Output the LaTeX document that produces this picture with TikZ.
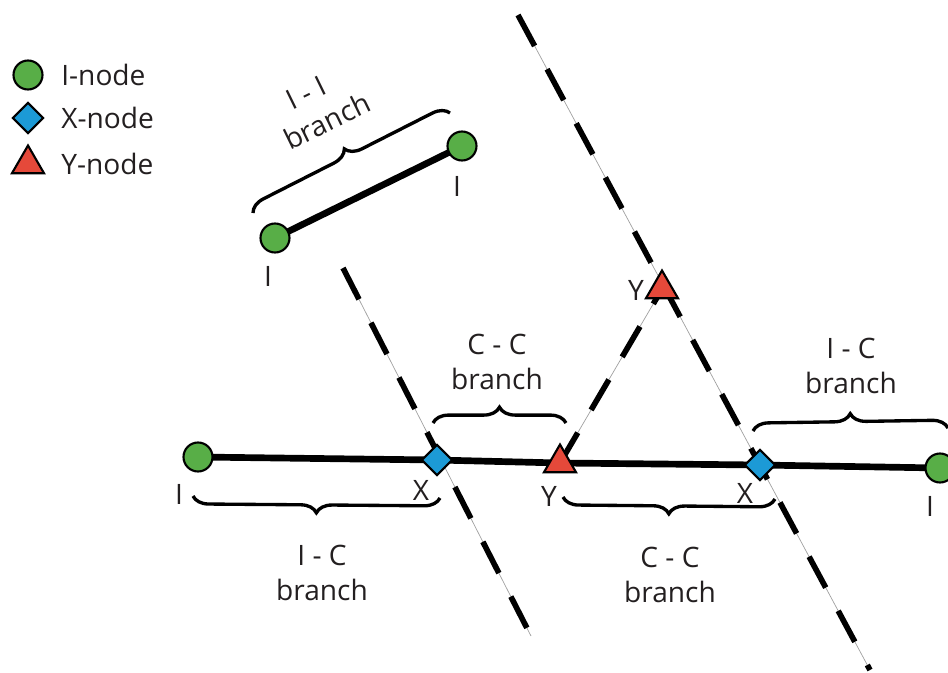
\documentclass[tikz,border=0pt]{standalone}
\usepackage{fontspec}
\setmainfont{Open Sans}
\usetikzlibrary{shapes.geometric,decorations.pathreplacing,positioning,backgrounds}
\definecolor{cInode} {HTML}{58AE47}
\definecolor{cXnode} {HTML}{1C9AD6}
\definecolor{cYnode} {HTML}{E5493A}
\definecolor{cThin}  {HTML}{A0A0A0}
\definecolor{cText}  {HTML}{231F20}

\begin{document}
\begin{tikzpicture}[
  x=0.02cm, y=-0.02cm,
  font=\fontsize{16}{20}\selectfont, text=cText,
  inode/.style ={circle, draw=black, line width=1.2pt, fill=cInode,
                 minimum size=0.58cm, inner sep=0pt},
  xnode/.style ={diamond, draw=black, line width=1.2pt, fill=cXnode,
                 minimum size=0.62cm, inner sep=0pt},
  ynode/.style ={regular polygon, regular polygon sides=3, draw=black,
                 line width=1.2pt, fill=cYnode, minimum size=0.74cm, inner sep=0pt},
  branch/.style={line width=3.8pt},
  thinline/.style={draw=cThin, line width=0.4pt},
  fracture/.style={line width=3.2pt, dash pattern=on 20pt off 15pt},
  brace/.style ={decorate, decoration={brace, amplitude=9pt}, line width=1.9pt},
  lbl/.style   ={align=center, inner sep=0pt},
  letter/.style={inner sep=0pt},
  key/.style   ={inner sep=0pt, anchor=west},
]
\useasboundingbox (0,0) rectangle (948,673);

% ---------------------------------------------------------------- legend
\node[inode] (li) at (28,75)  {};
\node[xnode] (lx) at (28,118) {};
\node[ynode] (ly) at (28,164) {};
\node[key] at (61,75)  {I-node};
\node[key] at (61,118) {X-node};
\node[key] at (61,164) {Y-node};

% ---------------------------------------------------------------- I-I branch
\node[inode] (ia) at (275,238) {};
\node[inode] (ib) at (462,146) {};
\node[letter] at (268,276) {I};
\node[letter] at (457,186) {I};

% ---------------------------------------------------------------- main branch
\node[inode] (ic) at (198,457) {};
\node[xnode] (xa) at (437,460) {};
\node[ynode] (ya) at (560,463) {};
\node[xnode] (xb) at (760,465) {};
\node[inode] (id) at (940,468) {};
\node[ynode] (yb) at (662,289) {};

\node[letter] at (179,494) {I};
\node[letter] at (421,490) {X};
\node[letter] at (549,496) {Y};
\node[letter] at (745,493) {X};
\node[letter] at (930,506) {I};
\node[letter] at (636,290) {Y};

% fracture ends
\coordinate (fa1) at (343,268);
\coordinate (fa2) at (531,636);
\coordinate (fb1) at (518,15);
\coordinate (fb2) at (870,670);

% ---------------------------------------------------------------- lines
\begin{scope}[on background layer]
  \draw[thinline] (fa1) -- (fa2);
  \draw[thinline] (fb1) -- (fb2);
  \draw[thinline] (ya.center) -- (yb.center);
  \draw[fracture] (fa1) -- (fa2);
  \draw[fracture] (fb1) -- (fb2);
  \draw[fracture] (ya.center) -- (yb.center);
  \draw[branch] (ia.center) -- (ib.center);
  \draw[branch] (ic.center) -- (xa.center) -- (ya.center) -- (xb.center) -- (id.center);
\end{scope}

% ---------------------------------------------------------------- braces
\draw[brace] (253,213) -- (450,113);
\draw[brace] (440,498) -- (193,496);
\draw[brace] (433,423) -- (566,423);
\draw[brace] (775,499) -- (563,497);
\draw[brace] (753,431) -- (948,428);

% ---------------------------------------------------------------- labels
\node[lbl, rotate=26] at (306,93)  {I - I};
\node[lbl, rotate=26] at (327,121) {branch};
\node[lbl] at (322,573) {I - C\\branch};
\node[lbl] at (497,362) {C - C\\branch};
\node[lbl] at (670,575) {C - C\\branch};
\node[lbl] at (851,366) {I - C\\branch};

\end{tikzpicture}
\end{document}
